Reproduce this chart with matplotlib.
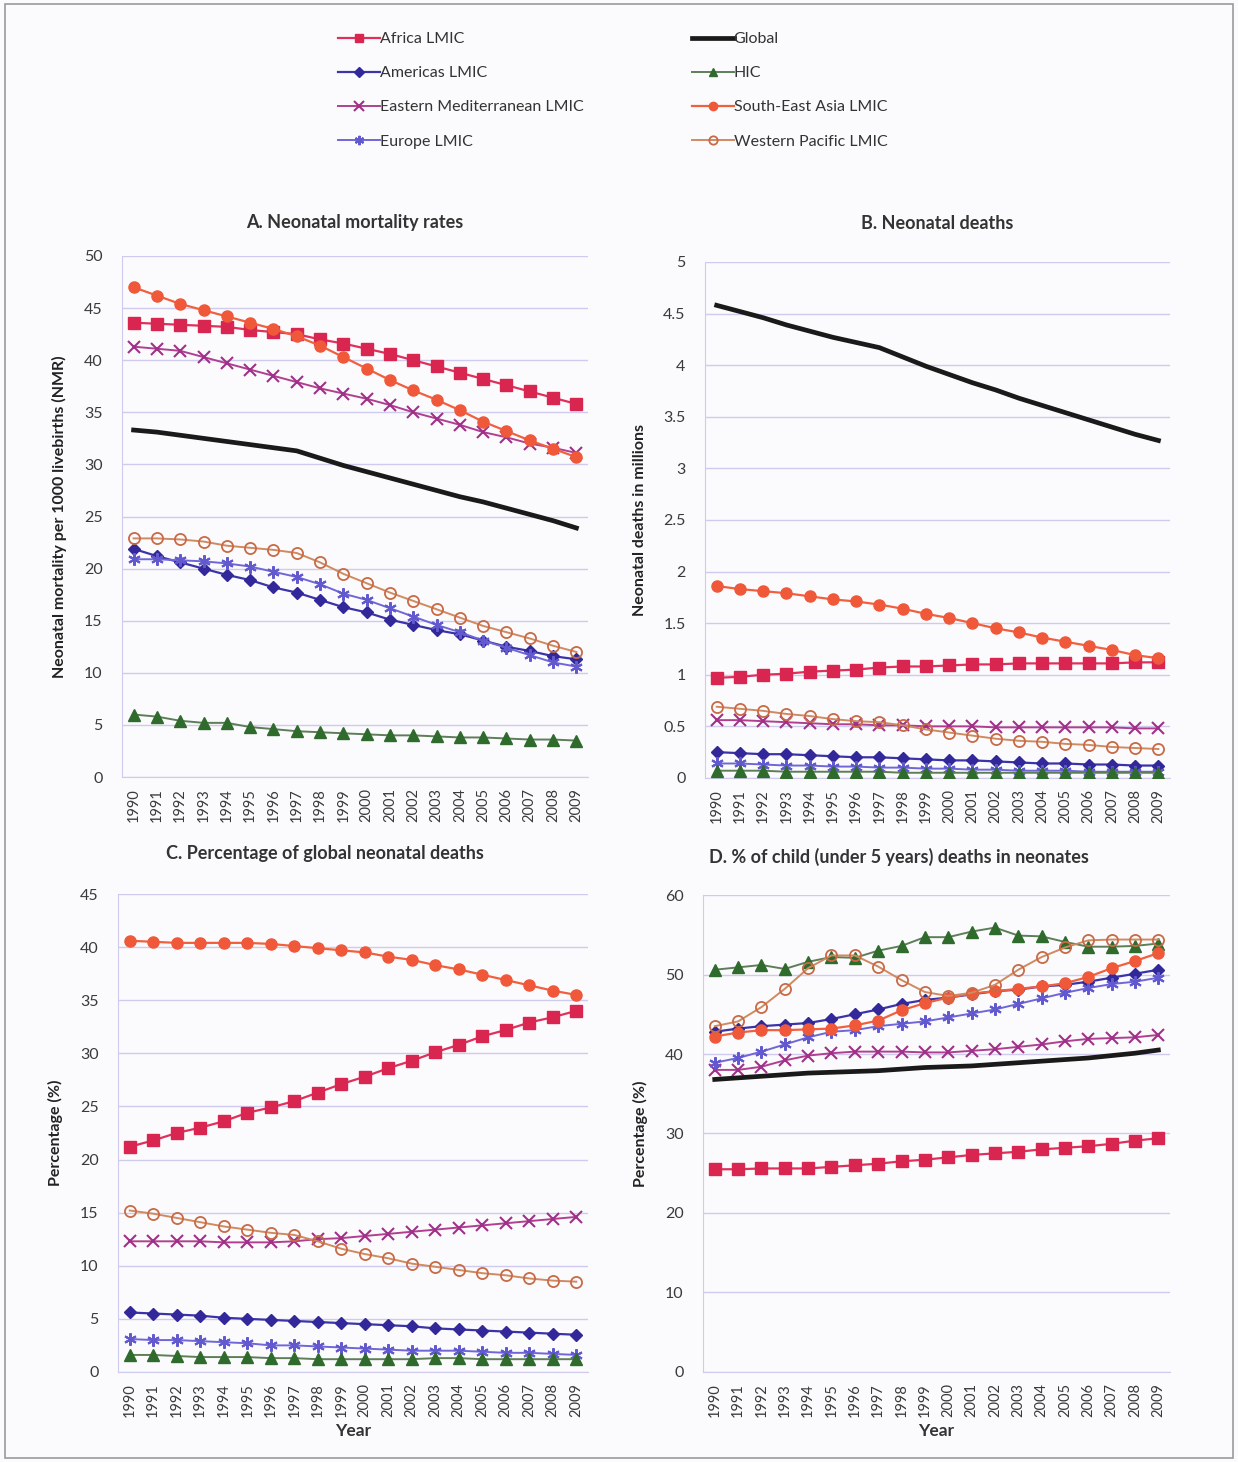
import matplotlib
matplotlib.use("Agg")
import matplotlib.pyplot as plt
from matplotlib.lines import Line2D
from matplotlib.patches import Rectangle

plt.rcParams['font.family'] = ['Lato', 'DejaVu Sans']

years = [str(y) for y in range(1990, 2010)]

# ---- Panel A: neonatal mortality rates (per 1000 live births)
a_africa = [43.6, 43.5, 43.4, 43.3, 43.2, 42.9, 42.7, 42.5, 42.0, 41.6, 41.1, 40.6, 40.0, 39.4, 38.8, 38.2, 37.6, 37.0, 36.4, 35.8]
a_americas = [21.9, 21.2, 20.6, 20.0, 19.4, 18.9, 18.2, 17.7, 17.0, 16.3, 15.8, 15.1, 14.6, 14.1, 13.7, 13.1, 12.5, 12.1, 11.6, 11.3]
a_emr = [41.3, 41.1, 40.9, 40.3, 39.7, 39.1, 38.5, 37.9, 37.3, 36.8, 36.3, 35.7, 35.0, 34.4, 33.8, 33.1, 32.6, 32.0, 31.6, 31.1]
a_europe = [20.9, 20.9, 20.8, 20.7, 20.5, 20.2, 19.7, 19.2, 18.5, 17.6, 17.0, 16.2, 15.4, 14.6, 13.9, 13.1, 12.4, 11.7, 11.0, 10.6]
a_global = [33.3, 33.1, 32.8, 32.5, 32.2, 31.9, 31.6, 31.3, 30.6, 29.9, 29.3, 28.7, 28.1, 27.5, 26.9, 26.4, 25.8, 25.2, 24.6, 23.9]
a_hic = [6.0, 5.8, 5.4, 5.2, 5.2, 4.8, 4.6, 4.4, 4.3, 4.2, 4.1, 4.0, 4.0, 3.9, 3.8, 3.8, 3.7, 3.6, 3.6, 3.5]
a_sea = [47.0, 46.2, 45.4, 44.8, 44.2, 43.6, 43.0, 42.3, 41.4, 40.3, 39.2, 38.1, 37.1, 36.2, 35.2, 34.1, 33.2, 32.3, 31.5, 30.7]
a_wpr = [22.9, 22.9, 22.8, 22.6, 22.2, 22.0, 21.8, 21.5, 20.6, 19.5, 18.6, 17.7, 16.9, 16.1, 15.3, 14.5, 13.9, 13.3, 12.6, 12.0]

# ---- Panel B: neonatal deaths (millions)
b_africa = [0.97, 0.98, 1.00, 1.01, 1.03, 1.04, 1.05, 1.07, 1.08, 1.08, 1.09, 1.10, 1.10, 1.11, 1.11, 1.11, 1.11, 1.11, 1.12, 1.12]
b_americas = [0.25, 0.24, 0.23, 0.23, 0.22, 0.21, 0.20, 0.20, 0.19, 0.18, 0.17, 0.17, 0.16, 0.15, 0.14, 0.14, 0.13, 0.13, 0.12, 0.12]
b_emr = [0.56, 0.56, 0.55, 0.54, 0.53, 0.52, 0.52, 0.51, 0.51, 0.50, 0.50, 0.50, 0.49, 0.49, 0.49, 0.49, 0.49, 0.49, 0.48, 0.48]
b_europe = [0.14, 0.14, 0.13, 0.12, 0.12, 0.11, 0.11, 0.10, 0.10, 0.09, 0.09, 0.08, 0.08, 0.07, 0.07, 0.07, 0.06, 0.06, 0.06, 0.06]
b_global = [4.58, 4.52, 4.46, 4.39, 4.33, 4.27, 4.22, 4.17, 4.08, 3.99, 3.91, 3.83, 3.76, 3.68, 3.61, 3.54, 3.47, 3.40, 3.33, 3.27]
b_hic = [0.07, 0.07, 0.07, 0.06, 0.06, 0.06, 0.06, 0.06, 0.05, 0.05, 0.05, 0.05, 0.05, 0.05, 0.05, 0.05, 0.05, 0.05, 0.05, 0.05]
b_sea = [1.86, 1.83, 1.81, 1.79, 1.76, 1.73, 1.71, 1.68, 1.64, 1.59, 1.55, 1.50, 1.45, 1.41, 1.36, 1.32, 1.28, 1.24, 1.19, 1.16]
b_wpr = [0.69, 0.67, 0.65, 0.62, 0.60, 0.57, 0.55, 0.54, 0.51, 0.47, 0.44, 0.41, 0.38, 0.36, 0.35, 0.33, 0.32, 0.30, 0.29, 0.28]

# ---- Panel C: percentage of global neonatal deaths
c_africa = [21.2, 21.8, 22.5, 23.0, 23.6, 24.4, 24.9, 25.5, 26.3, 27.1, 27.8, 28.6, 29.3, 30.1, 30.8, 31.6, 32.2, 32.9, 33.4, 34.0]
c_americas = [5.6, 5.5, 5.4, 5.3, 5.1, 5.0, 4.9, 4.8, 4.7, 4.6, 4.5, 4.4, 4.3, 4.1, 4.0, 3.9, 3.8, 3.7, 3.6, 3.5]
c_emr = [12.3, 12.3, 12.3, 12.3, 12.2, 12.2, 12.2, 12.3, 12.5, 12.6, 12.8, 13.0, 13.2, 13.4, 13.6, 13.8, 14.0, 14.2, 14.4, 14.6]
c_europe = [3.1, 3.0, 3.0, 2.9, 2.8, 2.7, 2.5, 2.5, 2.4, 2.3, 2.2, 2.1, 2.0, 2.0, 2.0, 1.9, 1.8, 1.8, 1.7, 1.6]
c_hic = [1.6, 1.6, 1.5, 1.4, 1.4, 1.4, 1.3, 1.3, 1.2, 1.2, 1.2, 1.2, 1.2, 1.3, 1.3, 1.2, 1.2, 1.2, 1.2, 1.2]
c_sea = [40.6, 40.5, 40.4, 40.4, 40.4, 40.4, 40.3, 40.1, 39.9, 39.7, 39.5, 39.1, 38.8, 38.3, 37.9, 37.4, 36.9, 36.4, 35.9, 35.5]
c_wpr = [15.2, 14.9, 14.5, 14.1, 13.7, 13.4, 13.1, 12.9, 12.3, 11.6, 11.1, 10.7, 10.2, 9.9, 9.6, 9.3, 9.1, 8.8, 8.6, 8.5]

# ---- Panel D: % of under-5 deaths in neonates
d_africa = [25.5, 25.5, 25.6, 25.6, 25.6, 25.8, 26.0, 26.2, 26.5, 26.7, 27.0, 27.3, 27.5, 27.7, 28.0, 28.2, 28.4, 28.7, 29.1, 29.4]
d_americas = [42.8, 43.2, 43.5, 43.7, 43.9, 44.4, 45.0, 45.6, 46.3, 46.8, 47.1, 47.5, 47.9, 48.1, 48.5, 48.7, 49.1, 49.6, 50.1, 50.6]
d_emr = [38.0, 38.0, 38.4, 39.2, 39.8, 40.1, 40.3, 40.3, 40.3, 40.2, 40.2, 40.4, 40.6, 40.9, 41.2, 41.6, 41.9, 42.0, 42.1, 42.4]
d_europe = [38.9, 39.5, 40.3, 41.2, 42.1, 42.8, 43.0, 43.5, 43.8, 44.1, 44.6, 45.1, 45.6, 46.3, 47.0, 47.7, 48.3, 48.8, 49.1, 49.6]
d_global = [36.8, 37.0, 37.2, 37.4, 37.6, 37.7, 37.8, 37.9, 38.1, 38.3, 38.4, 38.5, 38.7, 38.9, 39.1, 39.3, 39.5, 39.8, 40.1, 40.5]
d_hic = [50.6, 50.9, 51.2, 50.7, 51.6, 52.2, 52.1, 53.0, 53.6, 54.7, 54.7, 55.4, 55.9, 54.9, 54.8, 54.1, 53.5, 53.5, 53.6, 53.9]
d_sea = [42.2, 42.7, 43.0, 43.0, 43.1, 43.2, 43.6, 44.2, 45.5, 46.4, 47.1, 47.6, 47.9, 48.2, 48.5, 48.9, 49.7, 50.8, 51.7, 52.7]
d_wpr = [43.5, 44.1, 45.9, 48.2, 50.8, 52.4, 52.4, 51.0, 49.3, 47.8, 47.3, 47.7, 48.7, 50.6, 52.2, 53.4, 54.3, 54.4, 54.4, 54.4]

series_names = ["Africa LMIC", "Americas LMIC", "Eastern Mediterranean LMIC", "Europe LMIC",
                "Global", "HIC", "South-East Asia LMIC", "Western Pacific LMIC"]

styles = {
    "Africa LMIC": dict(color="#E0305A", marker="s", ms=8, mfc="#D92650", mec="#D92650", lw=1.6),
    "Americas LMIC": dict(color="#3B33A8", marker="D", ms=6.5, mfc="#33289A", mec="#33289A", lw=1.6),
    "Eastern Mediterranean LMIC": dict(color="#B0408F", marker="x", ms=9, mfc="none", mec="#A03088", mew=1.5, lw=1.4),
    "Europe LMIC": dict(color="#6F66D8", marker=(6, 2, 0), ms=9, mfc="none", mec="#6359CF", mew=1.5, lw=1.4),
    "Global": dict(color="#1A1A1A", marker=None, lw=3.4),
    "HIC": dict(color="#5E7E58", marker="^", ms=8, mfc="#2F6B2C", mec="#2F6B2C", lw=1.4),
    "South-East Asia LMIC": dict(color="#F0603F", marker="o", ms=8, mfc="#F0583A", mec="#F0583A", lw=1.6),
    "Western Pacific LMIC": dict(color="#D08A60", marker="o", ms=8, mfc="none", mec="#C86A45", mew=1.3, lw=1.4),
}

panels = [
    dict(rect=[0.0985, 0.4685, 0.3765, 0.3564], title="A. Neonatal mortality rates", title_x=0.5, pad=20,
         ylabel="Neonatal mortality per 1000 livebirths (NMR)", ylim=(0, 50), step=5, fmt="{:g}",
         data={"Africa LMIC": a_africa, "Americas LMIC": a_americas, "Eastern Mediterranean LMIC": a_emr,
               "Europe LMIC": a_europe, "Global": a_global, "HIC": a_hic,
               "South-East Asia LMIC": a_sea, "Western Pacific LMIC": a_wpr}, xlabel=None),
    dict(rect=[0.5695, 0.4679, 0.3756, 0.3529], title="B. Neonatal deaths", title_x=0.5, pad=24,
         ylabel="Neonatal deaths in millions", ylim=(0, 5), step=0.5, fmt="{:g}",
         data={"Africa LMIC": b_africa, "Americas LMIC": b_americas, "Eastern Mediterranean LMIC": b_emr,
               "Europe LMIC": b_europe, "Global": b_global, "HIC": b_hic,
               "South-East Asia LMIC": b_sea, "Western Pacific LMIC": b_wpr}, xlabel=None),
    dict(rect=[0.0953, 0.0616, 0.3797, 0.3269], title="C. Percentage of global neonatal deaths", title_x=0.44, pad=25,
         ylabel="Percentage (%)", ylim=(0, 45), step=5, fmt="{:g}",
         data={"Africa LMIC": c_africa, "Americas LMIC": c_americas, "Eastern Mediterranean LMIC": c_emr,
               "Europe LMIC": c_europe, "HIC": c_hic,
               "South-East Asia LMIC": c_sea, "Western Pacific LMIC": c_wpr}, xlabel="Year"),
    dict(rect=[0.5679, 0.0616, 0.3772, 0.3262], title="D. % of child (under 5 years) deaths in neonates", title_x=0.42, pad=23,
         ylabel="Percentage (%)", ylim=(0, 60), step=10, fmt="{:g}",
         data={"Africa LMIC": d_africa, "Americas LMIC": d_americas, "Eastern Mediterranean LMIC": d_emr,
               "Europe LMIC": d_europe, "Global": d_global, "HIC": d_hic,
               "South-East Asia LMIC": d_sea, "Western Pacific LMIC": d_wpr}, xlabel="Year"),
]

fig = plt.figure(figsize=(12.38, 14.62), dpi=100)
fig.patch.set_facecolor("#FBFBFD")
fig.add_artist(Rectangle((0.004, 0.003), 0.992, 0.994, transform=fig.transFigure,
                         fill=False, edgecolor="#9A9A9A", lw=1.2))

grid_c = "#CFCBEF"
tick_c = "#3A3A3A"
x = list(range(len(years)))

for p in panels:
    ax = fig.add_axes(p["rect"])
    ax.set_facecolor("none")
    for name in series_names:
        if name not in p["data"]:
            continue
        st = dict(styles[name])
        z = 4 if name == "Global" else 3
        ax.plot(x, p["data"][name], zorder=z, **st)
    ax.set_xlim(-0.5, len(years) - 0.5)
    lo, hi = p["ylim"]
    ax.set_ylim(lo, hi)
    n = int(round((hi - lo) / p["step"]))
    ticks = [lo + i * p["step"] for i in range(n + 1)]
    ax.set_yticks(ticks)
    ax.set_yticklabels([p["fmt"].format(t) for t in ticks], fontsize=11.5, color=tick_c)
    ax.yaxis.grid(True, color=grid_c, lw=1.0)
    ax.set_axisbelow(True)
    ax.set_xticks(x)
    ax.set_xticklabels(years, rotation=90, fontsize=10.5, color=tick_c)
    ax.tick_params(axis="y", length=0, pad=14)
    ax.tick_params(axis="x", length=0, pad=8)
    for s in ["top", "right"]:
        ax.spines[s].set_visible(False)
    ax.spines["left"].set_color(grid_c)
    ax.spines["bottom"].set_color(grid_c)
    ax.set_ylabel(p["ylabel"], fontsize=11.5, fontweight="bold", color="#222222", labelpad=12)
    ax.set_title(p["title"], fontsize=13, fontweight="bold", color="#333333", x=p["title_x"], pad=p["pad"])
    if p["xlabel"]:
        ax.set_xlabel(p["xlabel"], fontsize=12.5, fontweight="bold", color="#333333", labelpad=4)

def handle(name):
    st = dict(styles[name])
    return Line2D([], [], **st)

col1 = series_names[:4]
col2 = series_names[4:]
for names, xpos in [(col1, 338 / 1238), (col2, 692 / 1238)]:
    fig.legend([handle(nm) for nm in names], names, loc="upper left",
               bbox_to_anchor=(xpos, 1 - 32 / 1462), frameon=False, fontsize=11.5,
               handlelength=2.6, handletextpad=0.0, labelspacing=1.25, borderpad=0.0,
               borderaxespad=0.0, labelcolor="#333333", markerscale=0.75)

fig.savefig("out.png", dpi=100, facecolor=fig.get_facecolor())
